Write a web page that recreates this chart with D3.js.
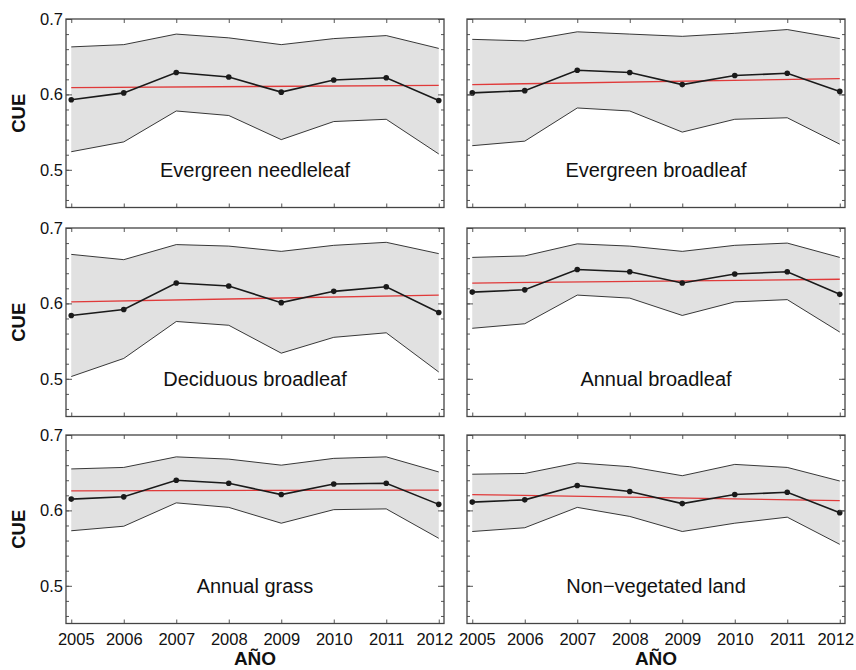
<!DOCTYPE html>
<html>
<head>
<meta charset="utf-8">
<script src="https://cdn.jsdelivr.net/npm/d3@7"></script>
<style>
  body { margin: 0; background: #fff; }
  svg { display: block; font-family: "Liberation Sans", Arial, sans-serif; }
</style>
</head>
<body>
<svg id="chart" width="856" height="670"></svg>
<script>
// data
const years = [2005, 2006, 2007, 2008, 2009, 2010, 2011, 2012];
const panelNames = ["Evergreen needleleaf", "Evergreen broadleaf", "Deciduous broadleaf",
                    "Annual broadleaf", "Annual grass", "Non\u2212vegetated land"];

const upper = [
  [0.663, 0.666, 0.680, 0.675, 0.666, 0.674, 0.678, 0.661],
  [0.673, 0.671, 0.683, 0.680, 0.677, 0.681, 0.686, 0.674],
  [0.665, 0.658, 0.678, 0.676, 0.669, 0.677, 0.681, 0.666],
  [0.661, 0.663, 0.679, 0.676, 0.669, 0.677, 0.680, 0.661],
  [0.655, 0.657, 0.671, 0.668, 0.660, 0.669, 0.671, 0.651],
  [0.648, 0.649, 0.663, 0.658, 0.646, 0.661, 0.657, 0.639]
];
const mean = [
  [0.593, 0.602, 0.629, 0.623, 0.603, 0.619, 0.622, 0.592],
  [0.602, 0.605, 0.632, 0.629, 0.613, 0.625, 0.628, 0.604],
  [0.584, 0.592, 0.627, 0.623, 0.601, 0.616, 0.622, 0.588],
  [0.615, 0.618, 0.645, 0.642, 0.627, 0.639, 0.642, 0.612],
  [0.615, 0.618, 0.640, 0.636, 0.621, 0.635, 0.636, 0.608],
  [0.611, 0.614, 0.633, 0.625, 0.609, 0.621, 0.624, 0.597]
];
const lower = [
  [0.524, 0.537, 0.578, 0.572, 0.540, 0.564, 0.567, 0.521],
  [0.532, 0.538, 0.582, 0.578, 0.550, 0.567, 0.569, 0.534],
  [0.503, 0.527, 0.576, 0.571, 0.534, 0.555, 0.561, 0.509],
  [0.567, 0.573, 0.611, 0.607, 0.584, 0.602, 0.605, 0.562],
  [0.573, 0.579, 0.610, 0.604, 0.583, 0.601, 0.602, 0.563],
  [0.572, 0.577, 0.604, 0.592, 0.572, 0.583, 0.591, 0.555]
];
// linear trend: value at 2005 and at 2012
const trend = [
  [0.609, 0.612],
  [0.613, 0.621],
  [0.602, 0.611],
  [0.627, 0.632],
  [0.626, 0.627],
  [0.621, 0.613]
];

const yTicks = [0.5, 0.6, 0.7];

const svg = d3.select('#chart');
const colLeft = [66, 467];
const rowTop = [19, 228, 435];
const pw = 378, ph = 188.5;

const x = d3.scaleLinear().domain([2004.9, 2012.1]).range([0, pw]);
const y = d3.scaleLinear().domain([0.45, 0.7]).range([ph, 0]);
const minorTicks = d3.range(0.46, 0.7001, 0.02);

panelNames.forEach((name, i) => {
  const col = i % 2, row = Math.floor(i / 2);
  const g = svg.append('g').attr('transform', `translate(${colLeft[col]},${rowTop[row]})`);

  const band = years.map((yr, j) => ({ yr, lo: lower[i][j], hi: upper[i][j], m: mean[i][j] }));

  g.append('path')
    .datum(band)
    .attr('fill', '#e1e1e1')
    .attr('d', d3.area().x(d => x(d.yr)).y0(d => y(d.lo)).y1(d => y(d.hi)));

  g.append('path').datum(band).attr('fill', 'none').attr('stroke', '#222').attr('stroke-width', 0.9)
    .attr('d', d3.line().x(d => x(d.yr)).y(d => y(d.hi)));
  g.append('path').datum(band).attr('fill', 'none').attr('stroke', '#222').attr('stroke-width', 0.9)
    .attr('d', d3.line().x(d => x(d.yr)).y(d => y(d.lo)));

  // trend line
  g.append('line')
    .attr('x1', x(years[0])).attr('x2', x(years[years.length - 1]))
    .attr('y1', y(trend[i][0])).attr('y2', y(trend[i][1]))
    .attr('stroke', '#e03a3a').attr('stroke-width', 1.3);

  // mean line + dots
  g.append('path').datum(band).attr('fill', 'none').attr('stroke', '#1a1a1a').attr('stroke-width', 1.6)
    .attr('d', d3.line().x(d => x(d.yr)).y(d => y(d.m)));
  g.selectAll('circle').data(band).join('circle')
    .attr('cx', d => x(d.yr)).attr('cy', d => y(d.m)).attr('r', 2.8).attr('fill', '#1a1a1a');

  // label
  g.append('text')
    .attr('x', pw / 2).attr('y', y(0.5) + 7)
    .attr('text-anchor', 'middle')
    .attr('font-size', 20)
    .attr('fill', '#111')
    .text(name);

  // ticks on all sides (inward)
  const tickCol = '#555';
  const yMajor = d3.axisLeft(y).tickValues(yTicks).tickSize(-6).tickFormat(col === 0 ? d3.format('.1f') : '');
  const yMinor = d3.axisLeft(y).tickValues(minorTicks).tickSize(-3).tickFormat('');
  const yMajorR = d3.axisRight(y).tickValues(yTicks).tickSize(-6).tickFormat('');
  const yMinorR = d3.axisRight(y).tickValues(minorTicks).tickSize(-3).tickFormat('');
  const xBot = d3.axisBottom(x).tickValues(years).tickSize(-4).tickFormat(row === 2 ? d3.format('d') : '');
  const xTop = d3.axisTop(x).tickValues(years).tickSize(-4).tickFormat('');

  [[yMinor, 0, 0, 'y'], [yMajor, 0, 0, 'y'], [yMinorR, pw, 0, 'n'], [yMajorR, pw, 0, 'n'],
   [xBot, 0, ph, 'x'], [xTop, 0, 0, 'n']]
    .forEach(([ax, tx, ty, kind]) => {
      const a = g.append('g').attr('transform', `translate(${tx},${ty})`).call(ax);
      a.select('.domain').remove();
      a.selectAll('line').attr('stroke', tickCol).attr('stroke-width', 1);
      a.selectAll('text').filter(function () { return this.textContent === ''; }).remove();
      a.selectAll('text').attr('font-size', 16.5).attr('fill', '#111')
        .attr('font-family', '"Liberation Sans", Arial, sans-serif');
      if (kind === 'y') a.selectAll('text').attr('x', -3);
      if (kind === 'x') {
        a.selectAll('text').attr('y', 21.5).attr('dy', 0)
          .attr('dx', d => d === years[0] ? 4.5 : (d === years[years.length - 1] ? -4.5 : 0));
      }
    });

  g.append('rect')
    .attr('width', pw).attr('height', ph)
    .attr('fill', 'none').attr('stroke', '#444').attr('stroke-width', 1.3);

  if (col === 0) {
    svg.append('text')
      .attr('transform', `translate(25,${rowTop[row] + ph / 2}) rotate(-90)`)
      .attr('text-anchor', 'middle')
      .attr('font-size', 18.5).attr('font-weight', 'bold').attr('fill', '#111')
      .text('CUE');
  }
  if (row === 2) {
    svg.append('text')
      .attr('x', colLeft[col] + pw / 2).attr('y', 665)
      .attr('text-anchor', 'middle')
      .attr('font-size', 19).attr('font-weight', 'bold').attr('fill', '#111')
      .text('AÑO');
  }
});
</script>
</body>
</html>
